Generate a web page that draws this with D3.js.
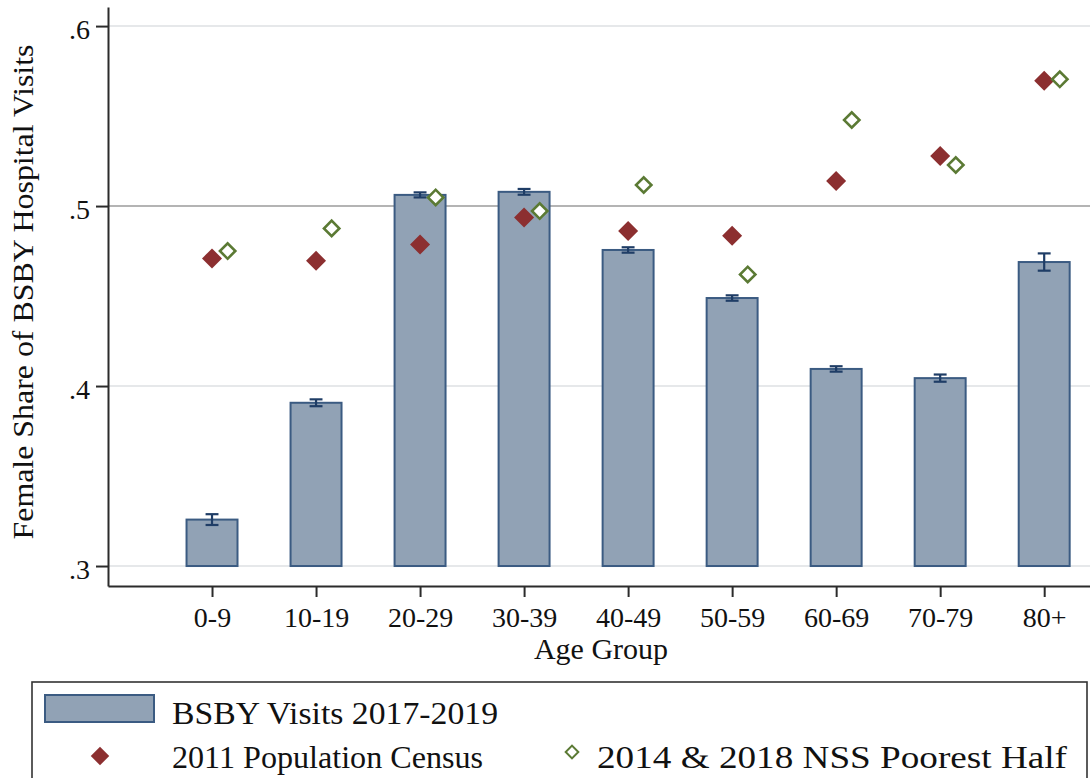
<!DOCTYPE html>
<html>
<head>
<meta charset="utf-8">
<script src="https://cdn.jsdelivr.net/npm/d3@7"></script>
<style>
  html, body { margin: 0; padding: 0; background: #fff; }
  svg { display: block; }
  text { font-family: "Liberation Serif", "DejaVu Serif", serif; fill: #111; }
</style>
</head>
<body>
<svg id="chart" width="1090" height="778"></svg>
<script>
// Age groups and female shares
const ageGroups = ["0-9", "10-19", "20-29", "30-39", "40-49", "50-59", "60-69", "70-79", "80+"];
const bsbyShare = [0.3258, 0.3907, 0.5062, 0.5079, 0.4756, 0.4489, 0.4095, 0.4044, 0.4689];
const bsbyErr = [0.0030, 0.0019, 0.0014, 0.0016, 0.0015, 0.0015, 0.0015, 0.0020, 0.0048];
const censusShare = [0.4709, 0.4696, 0.4787, 0.4937, 0.4861, 0.4835, 0.5139, 0.5278, 0.5696];
const nssShare = [0.4750, 0.4876, 0.5048, 0.4972, 0.5117, 0.4620, 0.5478, 0.5228, 0.5704];
const yTickValues = [0.3, 0.4, 0.5, 0.6];
const yTickLabels = [".3", ".4", ".5", ".6"];
const legendLabels = ["BSBY Visits 2017-2019", "2011 Population Census", "2014 & 2018 NSS Poorest Half"];

const colors = {
  barFill: "#91a2b5",
  barStroke: "#3b5b82",
  err: "#1f3d66",
  census: "#8c2f30",
  nss: "#5b7a34",
  axis: "#2b2b2b",
  grid: "#e6e8ea",
  refLine: "#b4b4b4"
};

const svg = d3.select("#chart");

// Plot region
const plot = { left: 108, right: 1091, top: 7, bottom: 586 };
const x = d3.scaleLinear().domain([0, 9.45]).range([plot.left, plot.right]);
const y = d3.scaleLinear().domain([0.2889, 0.6106]).range([plot.bottom, plot.top]);
const pos = (i) => i + 1;
const barBase = 0.3;
const barHalf = 0.245;
const nssOffset = 0.15;

// Gridlines
svg.append("g")
  .selectAll("line")
  .data(yTickValues.filter(v => v !== 0.5))
  .join("line")
  .attr("x1", plot.left).attr("x2", plot.right)
  .attr("y1", d => y(d)).attr("y2", d => y(d))
  .attr("stroke", colors.grid)
  .attr("stroke-width", 2);

// Reference line at one half
svg.append("line")
  .attr("x1", plot.left).attr("x2", plot.right)
  .attr("y1", y(0.5)).attr("y2", y(0.5))
  .attr("stroke", colors.refLine)
  .attr("stroke-width", 2);

// Bars
svg.append("g")
  .selectAll("rect")
  .data(bsbyShare)
  .join("rect")
  .attr("x", (d, i) => x(pos(i) - barHalf))
  .attr("width", (d, i) => x(pos(i) + barHalf) - x(pos(i) - barHalf))
  .attr("y", d => y(d))
  .attr("height", d => y(barBase) - y(d))
  .attr("fill", colors.barFill)
  .attr("stroke", colors.barStroke)
  .attr("stroke-width", 2);

// Error bars
const errG = svg.append("g")
  .attr("stroke", colors.err)
  .attr("stroke-width", 2.2)
  .attr("fill", "none");
const capHalf = 0.062;
bsbyShare.forEach((v, i) => {
  const cx = x(pos(i));
  const lo = y(v - bsbyErr[i]);
  const hi = y(v + bsbyErr[i]);
  const cw = x(pos(i) + capHalf) - cx;
  errG.append("line").attr("x1", cx).attr("x2", cx).attr("y1", lo).attr("y2", hi);
  errG.append("line").attr("x1", cx - cw).attr("x2", cx + cw).attr("y1", lo).attr("y2", lo);
  errG.append("line").attr("x1", cx - cw).attr("x2", cx + cw).attr("y1", hi).attr("y2", hi);
});

// Diamond markers (rotated squares)
const bigDiamond = d3.symbol().type(d3.symbolSquare).size(200);
const hollowDiamond = d3.symbol().type(d3.symbolSquare).size(118);

svg.append("g")
  .selectAll("path")
  .data(censusShare)
  .join("path")
  .attr("d", bigDiamond)
  .attr("transform", (d, i) => `translate(${x(pos(i))},${y(d)}) rotate(45)`)
  .attr("fill", colors.census);

svg.append("g")
  .selectAll("path")
  .data(nssShare)
  .join("path")
  .attr("d", hollowDiamond)
  .attr("transform", (d, i) => `translate(${x(pos(i) + nssOffset)},${y(d)}) rotate(45)`)
  .attr("fill", "#fff")
  .attr("stroke", colors.nss)
  .attr("stroke-width", 2.6);

// Y axis
const yAxis = d3.axisLeft(y)
  .tickValues(yTickValues)
  .tickFormat((d, i) => yTickLabels[i])
  .tickSize(12)
  .tickPadding(6)
  .tickSizeOuter(0);
const yAxisG = svg.append("g")
  .attr("transform", `translate(${plot.left},0)`)
  .call(yAxis);
yAxisG.select(".domain").attr("stroke", colors.axis).attr("stroke-width", 2);
yAxisG.selectAll(".tick line").attr("stroke", colors.axis).attr("stroke-width", 2);
yAxisG.selectAll(".tick text")
  .attr("font-family", "Liberation Serif, serif")
  .attr("font-size", 28)
  .attr("fill", "#111")
  .attr("dy", "0.45em");

// X axis
const xAxis = d3.axisBottom(x)
  .tickValues(ageGroups.map((d, i) => pos(i)))
  .tickFormat((d, i) => ageGroups[i])
  .tickSize(11)
  .tickPadding(10)
  .tickSizeOuter(0);
const xAxisG = svg.append("g")
  .attr("transform", `translate(0,${plot.bottom})`)
  .call(xAxis);
xAxisG.select(".domain").attr("stroke", colors.axis).attr("stroke-width", 2);
xAxisG.selectAll(".tick line").attr("stroke", colors.axis).attr("stroke-width", 2);
xAxisG.selectAll(".tick text")
  .attr("font-family", "Liberation Serif, serif")
  .attr("font-size", 28)
  .attr("fill", "#111");

// Axis titles
svg.append("text")
  .attr("x", 601)
  .attr("y", 659)
  .attr("text-anchor", "middle")
  .attr("font-size", 30)
  .text("Age Group");

svg.append("text")
  .attr("transform", "translate(33,292) rotate(-90)")
  .attr("text-anchor", "middle")
  .attr("font-size", 30)
  .attr("textLength", 495)
  .attr("lengthAdjust", "spacingAndGlyphs")
  .text("Female Share of BSBY Hospital Visits");

// Legend
const legend = svg.append("g");
legend.append("rect")
  .attr("x", 32).attr("y", 682)
  .attr("width", 1055).attr("height", 130)
  .attr("fill", "#fff")
  .attr("stroke", "#333")
  .attr("stroke-width", 1.6);

legend.append("rect")
  .attr("x", 45).attr("y", 695)
  .attr("width", 109).attr("height", 27)
  .attr("fill", colors.barFill)
  .attr("stroke", colors.barStroke)
  .attr("stroke-width", 2);
legend.append("text")
  .attr("x", 172).attr("y", 724)
  .attr("font-size", 31)
  .attr("textLength", 326)
  .attr("lengthAdjust", "spacingAndGlyphs")
  .text(legendLabels[0]);

legend.append("path")
  .attr("d", d3.symbol().type(d3.symbolSquare).size(170)())
  .attr("transform", "translate(100,756) rotate(45)")
  .attr("fill", colors.census);
legend.append("text")
  .attr("x", 172).attr("y", 768)
  .attr("font-size", 31)
  .attr("textLength", 311)
  .attr("lengthAdjust", "spacingAndGlyphs")
  .text(legendLabels[1]);

legend.append("path")
  .attr("d", d3.symbol().type(d3.symbolSquare).size(80)())
  .attr("transform", "translate(572,752) rotate(45)")
  .attr("fill", "#fff")
  .attr("stroke", colors.nss)
  .attr("stroke-width", 2);
legend.append("text")
  .attr("x", 597).attr("y", 768)
  .attr("font-size", 31)
  .attr("textLength", 470)
  .attr("lengthAdjust", "spacingAndGlyphs")
  .text(legendLabels[2]);
</script>
</body>
</html>
